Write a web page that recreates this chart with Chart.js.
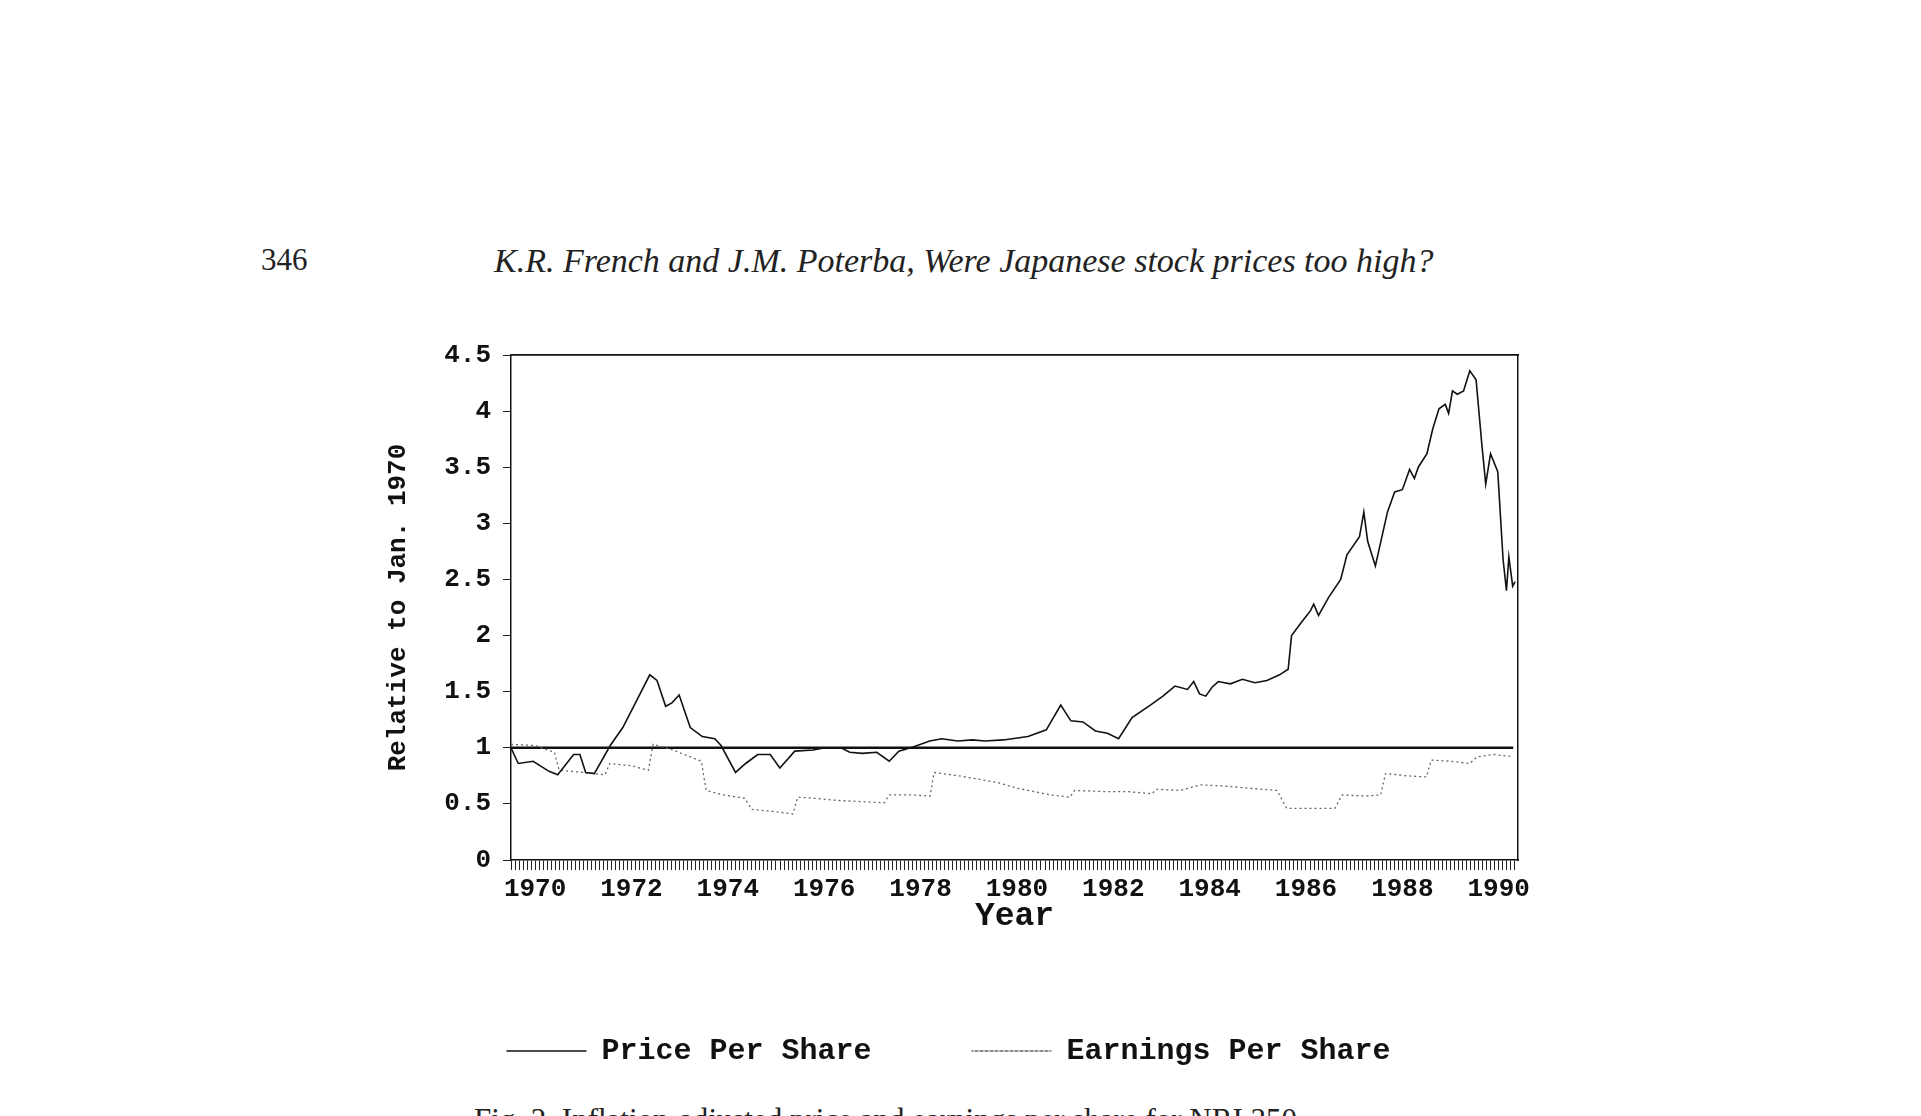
<!DOCTYPE html>
<html><head><meta charset="utf-8">
<script src="https://cdn.jsdelivr.net/npm/chart.js@4.4.1/dist/chart.umd.min.js"></script>
<style>
html,body{margin:0;padding:0;background:#fff;width:1921px;height:1116px;overflow:hidden;position:relative}
#c{position:absolute;left:0;top:0}
.t{position:absolute;font-family:"Liberation Serif",serif;color:#222;white-space:nowrap}
</style></head><body>
<div class="t" style="left:261px;top:242px;font-size:31px">346</div>
<div class="t" style="left:494px;top:242px;font-size:34px;font-style:italic">K.R. French and J.M. Poterba, Were Japanese stock prices too high?</div>
<div class="t" style="left:474px;top:1102px;font-size:31px">Fig. 2. Inflation-adjusted price and earnings per share for NRI 350.</div>
<canvas id="c" width="1921" height="1116"></canvas>
<script>
const priceYears=[1970.00,1970.15,1970.46,1970.79,1970.97,1971.30,1971.43,1971.55,1971.73,1972.06,1972.32,1972.57,1972.88,1973.03,1973.21,1973.34,1973.49,1973.72,1973.97,1974.23,1974.36,1974.66,1974.87,1975.12,1975.38,1975.58,1975.89,1976.27,1976.52,1976.85,1977.03,1977.29,1977.59,1977.85,1978.05,1978.36,1978.69,1978.94,1979.27,1979.58,1979.83,1980.22,1980.73,1981.11,1981.41,1981.62,1981.87,1982.13,1982.38,1982.61,1982.89,1983.27,1983.53,1983.78,1984.04,1984.17,1984.29,1984.42,1984.55,1984.68,1984.93,1985.18,1985.44,1985.69,1985.95,1986.13,1986.20,1986.41,1986.59,1986.66,1986.76,1986.97,1987.22,1987.35,1987.61,1987.70,1987.78,1987.94,1988.19,1988.34,1988.50,1988.65,1988.75,1988.83,1989.01,1989.13,1989.26,1989.39,1989.46,1989.54,1989.64,1989.77,1989.90,1990.03,1990.15,1990.23,1990.33,1990.48,1990.59,1990.66,1990.71,1990.79,1990.84];
const priceValues=[1.00,0.86,0.88,0.79,0.76,0.94,0.94,0.78,0.77,1.02,1.18,1.39,1.65,1.60,1.37,1.40,1.47,1.18,1.10,1.08,1.02,0.78,0.86,0.94,0.94,0.82,0.97,0.98,1.00,1.00,0.96,0.95,0.96,0.88,0.97,1.01,1.06,1.08,1.06,1.07,1.06,1.07,1.10,1.16,1.38,1.24,1.23,1.15,1.13,1.08,1.27,1.38,1.46,1.55,1.52,1.59,1.48,1.46,1.54,1.59,1.57,1.61,1.58,1.60,1.65,1.70,2.00,2.12,2.22,2.28,2.18,2.34,2.50,2.72,2.88,3.10,2.84,2.62,3.10,3.28,3.30,3.48,3.40,3.50,3.62,3.84,4.02,4.06,3.98,4.18,4.15,4.18,4.36,4.28,3.70,3.35,3.62,3.46,2.68,2.40,2.70,2.44,2.48];
const earnYears=[1970.00,1970.50,1970.90,1971.00,1971.50,1971.95,1972.05,1972.50,1972.85,1972.95,1973.30,1973.60,1973.95,1974.05,1974.40,1974.85,1975.00,1975.50,1975.85,1975.95,1976.30,1976.80,1977.30,1977.75,1977.85,1978.30,1978.70,1978.78,1979.30,1979.70,1980.10,1980.50,1981.20,1981.60,1981.70,1982.30,1982.80,1983.30,1983.40,1983.90,1984.30,1984.80,1985.30,1985.90,1986.10,1986.60,1987.10,1987.25,1987.70,1988.05,1988.15,1988.60,1989.00,1989.10,1989.50,1989.90,1990.05,1990.40,1990.80];
const earnValues=[1.03,1.02,0.96,0.80,0.78,0.76,0.86,0.84,0.80,1.03,0.99,0.94,0.88,0.62,0.58,0.55,0.45,0.43,0.41,0.56,0.55,0.53,0.52,0.51,0.58,0.58,0.57,0.78,0.75,0.72,0.69,0.64,0.58,0.56,0.62,0.61,0.61,0.59,0.63,0.62,0.67,0.66,0.64,0.62,0.46,0.46,0.46,0.58,0.57,0.58,0.77,0.75,0.74,0.89,0.88,0.86,0.92,0.94,0.92];
const yTicks=[0,0.5,1,1.5,2,2.5,3,3.5,4,4.5];
const xLabelYears=[1970,1972,1974,1976,1978,1980,1982,1984,1986,1988,1990];
const refLine=[{x:1970,y:1},{x:1990.8,y:1}];
const seriesNames=['Price Per Share','Earnings Per Share'];

const mono='"Liberation Mono","DejaVu Sans Mono",monospace';
const toXY=(xs,ys)=>xs.map((x,i)=>({x,y:ys[i]}));
new Chart(document.getElementById('c'),{
 type:'line',
 data:{datasets:[
  {label:seriesNames[0],data:toXY(priceYears,priceValues),borderColor:'#111',borderWidth:1.6,pointRadius:0,tension:0},
  {label:seriesNames[1],data:toXY(earnYears,earnValues),borderColor:'#666',borderWidth:1.3,borderDash:[2,3],pointRadius:0,tension:0},
  {label:'ref',data:refLine,borderColor:'#111',borderWidth:2.6,pointRadius:0}
 ]},
 options:{
  responsive:false,animation:false,
  layout:{padding:{left:379,right:403,top:355,bottom:40}},
  plugins:{legend:{position:'bottom',labels:{filter:i=>i.text!=='ref',color:'#111',font:{family:mono,size:30,weight:'bold'},boxWidth:80,boxHeight:0,padding:100}},tooltip:{enabled:false}},
  scales:{
   x:{type:'linear',min:1970,max:1990.9,
     afterBuildTicks:s=>{const t=[];for(let m=0;m<=250;m++)t.push({value:1970+m/12});s.ticks=t;},
     afterFit:s=>{s.height=76;},
     ticks:{autoSkip:false,maxRotation:0,minRotation:0,padding:4,color:'#111',font:{family:mono,size:26,weight:'bold'},
       callback:v=>{const m=Math.round((v-1970)*12);if(m%24===6){const y=1970+(m-6)/12;return xLabelYears.includes(y)?String(y):'';}return '';}},
     grid:{drawOnChartArea:false,tickLength:10,color:'#222',lineWidth:1},
     border:{color:'#111',width:1.5},
     title:{display:true,text:'Year',color:'#111',font:{family:mono,size:33,weight:'bold'},padding:{top:0,bottom:0}}},
   xTop:{type:'linear',position:'top',min:1970,max:1990.9,ticks:{display:false},grid:{display:false},border:{color:'#111',width:1.8},afterFit:s=>{s.height=0;}},
   y:{min:0,max:4.5,
     afterBuildTicks:s=>{s.ticks=yTicks.map(v=>({value:v}));},
     afterFit:s=>{s.width=132;},
     ticks:{color:'#111',padding:12,font:{family:mono,size:26,weight:'bold'},callback:v=>String(v)},
     grid:{drawOnChartArea:false,tickLength:8,color:'#222'},
     border:{color:'#111',width:1.5},
     title:{display:true,text:'Relative to Jan. 1970',color:'#111',font:{family:mono,size:26,weight:'bold'},padding:{bottom:8}}},
   yRight:{position:'right',min:0,max:4.5,ticks:{display:false},grid:{display:false},border:{color:'#111',width:1.5},afterFit:s=>{s.width=0;}}
  }
 }
});
</script></body></html>
